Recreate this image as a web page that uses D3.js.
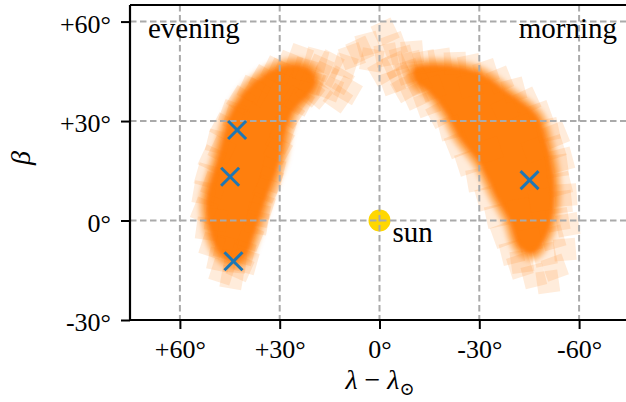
<!DOCTYPE html>
<html>
<head>
<meta charset="utf-8">
<script src="https://cdn.jsdelivr.net/npm/d3@7"></script>
<style>
  body { margin: 0; background: #fff; }
  svg text { font-family: "Liberation Serif", "DejaVu Serif", serif; fill: #000; }
</style>
</head>
<body>
<svg id="chart" width="626" height="402"></svg>
<script>
"use strict";
// axis ticks
var xTicks = [60, 30, 0, -30, -60];
var xTickLabels = ["+60°", "+30°", "0°", "-30°", "-60°"];
var yTicks = [-30, 0, 30, 60];
var yTickLabels = ["-30°", "0°", "+30°", "+60°"];

// dense part of the sample cloud (outline), evening / morning
var coreEveLam  = [44.3, 48.5, 50.9, 51.8, 50.3, 47.6, 45.2, 41.9, 37.4, 31.4, 24.9, 20.5, 19.6, 22.0, 26.0, 28.4, 30.2, 33.5, 35.9, 38.3, 40.4];
var coreEveBeta = [-12.4, -8.8, -2.2, 6.2, 12.3, 21.3, 30.3, 36.4, 41.5, 45.4, 46.6, 44.8, 41.2, 37.6, 33.6, 27.3, 18.3, 9.2, 2.3, -5.2, -10.3];
var coreMorLam  = [-10.5, -16.5, -29.3, -38.3, -47.3, -50.3, -52.1, -52.1, -50.3, -46.1, -42.2, -39.2, -35.3, -30.2, -24.2, -20.3, -14.5, -11.0];
var coreMorBeta = [45.5, 46.6, 44.5, 38.5, 31.2, 22.2, 13.2, 4.1, -3.7, -9.7, -7.9, 0.2, 7.1, 17.4, 25.2, 32.4, 39.5, 42.0];

// sparse samples around the dense part
var sampLam = [
  // evening, outer edge
  48.2, 50.3, 51.8, 52.7, 52.7, 51.8, 50.3, 48.5, 46.7, 44.3, 41.6, 38.6, 35.0, 31.4, 27.2,
  // evening, inner edge
  41.0, 38.9, 36.8, 35.3, 33.8, 32.0, 30.5, 29.0, 26.9, 23.9,
  // evening, tail
  47.3, 44.3, 41.9,
  // evening, upper end
  23.9, 19.1, 14.9, 18.5, 14.9, 11.9, 10.4, 8.3, 5.9, 3.5, 2.3, 12.5, 16.4, 20.3, 22.4, 17.9, 9.5, 20.9,
  // evening, on the edge
  46.1, 49.1, 49.7, 47.3, 43.1, 37.1, 29.9, 36.5, 32.9, 29.9, 25.4, 43.4, 40.1,
  // morning, outer edge
  -18.2, -22.7, -27.2, -32.0, -36.2, -40.4, -44.3, -48.2, -50.6, -52.1, -53.3, -54.2, -54.5,
  -53.6, -52.1, -49.7, -52.7, -50.6, -46.4, -42.2, -55.7, -56.6, -56.0, -54.8, -53.0,
  // morning, inner edge
  -10.7, -14.3, -18.2, -21.2, -23.6, -26.6, -29.6, -32.6, -35.3, -37.4, -39.8, -42.8, -7.7,
  // morning, upper end
  -1.7, -4.4, -2.0, -6.8, -9.8, -0.8, -3.8, -13.7, -4.7, -8.6, -11.6, -15.8, -6.5, -9.5,
  // morning, on the edge
  -45.2, -48.2, -46.7, -37.7, -27.2, -33.2, -42.2
];
var sampBeta = [
  -11.8, -7.6, -2.5, 2.9, 8.3, 13.5, 18.6, 23.7, 28.2, 32.4, 36.3, 39.6, 42.7, 45.4, 47.2,
  -9.7, -5.2, -0.7, 4.4, 9.5, 15.3, 21.3, 27.3, 32.1, 35.8,
  -15.4, -17.2, -14.2,
  49.3, 48.4, 47.2, 38.1, 39.9, 42.3, 46.6, 49.6, 51.4, 53.2, 48.4, 36.9, 43.8, 41.7, 45.4, 46.0, 39.3, 38.7,
  -8.2, 0.2, 10.7, 21.3, 30.9, 38.7, 44.8, 1.7, 12.3, 24.3, 36.3, -12.4, -12.4,
  48.4, 47.5, 46.6, 44.8, 42.4, 39.4, 36.0, 32.1, 27.3, 21.9, 16.5, 11.0, 5.6,
  0.2, -5.2, -10.3, -14.2, -18.5, -16.7, -13.7, -8.8, -1.3, 7.7, 18.3, 25.8,
  37.5, 35.1, 32.1, 27.9, 22.8, 17.4, 12.3, 6.8, 1.4, -4.3, -9.7, -12.4, 39.9,
  56.8, 52.9, 49.9, 49.0, 50.8, 44.8, 41.7, 47.8, 46.9, 44.8, 41.7, 39.9, 43.0, 47.5,
  -5.8, 6.2, 21.3, 33.3, 40.8, 21.3, 3.2
];
var sampAngle = [
  12, 18, 8, 22, 10, 16, 25, 14, 28, 20, 32, 24, 30, 26, 22,
  15, 22, 10, 18, 26, 14, 30, 20, 34, 28,
  18, 10, 24,
  20, 15, 28, 40, 22, 30, 18, -20, -25, -15, 10, 35, 25, 20, 15, 24, 30, 38,
  14, 8, 20, 26, 18, 30, 24, 12, 20, 28, 34, 6, 16,
  -8, -2, -12, -18, -22, -15, -25, -20, -12, -18, -8, -14, -6,
  -10, -16, -12, -20, -8, -14, -18, -5, -10, -4, -15, -22,
  -25, -20, -28, -15, -22, -18, -10, -16, -12, -20, -14, -8, -30,
  -25, -20, -10, -15, -5, -30, -20, -12, -24, -18, -26, -20, -28, -14,
  -12, -8, -20, -25, -15, -18, -10
];

// observed positions
var obsLam  = [42.8, 44.9, 43.9, -45.1];
var obsBeta = [27.3, 13.2, -12.3, 12.2];

var margin = { left: 130, top: 5 };
var plotW = 499, plotH = 315;

var svg = d3.select("#chart");
var g = svg.append("g").attr("transform", "translate(" + margin.left + "," + margin.top + ")");

var x = d3.scaleLinear().domain([75, -75]).range([0, plotW]);
var y = d3.scaleLinear().domain([-30, 65]).range([plotH, 0]);

var defs = svg.append("defs");
defs.append("filter").attr("id", "soft")
  .attr("x", "-20%").attr("y", "-20%").attr("width", "140%").attr("height", "140%")
  .append("feGaussianBlur").attr("stdDeviation", 2.5);

var orange = "#ff7f0e";
var line = d3.line().x(function (d) { return x(d[0]); }).y(function (d) { return y(d[1]); })
  .curve(d3.curveCatmullRomClosed.alpha(0.5));

var cores = [d3.zip(coreEveLam, coreEveBeta), d3.zip(coreMorLam, coreMorBeta)];
// soft halo, then the saturated centre
g.selectAll("path.halo").data(cores).enter().append("path")
  .attr("class", "halo")
  .attr("d", line)
  .attr("fill", "none")
  .attr("stroke", orange)
  .attr("stroke-width", 16)
  .attr("stroke-linejoin", "round")
  .attr("stroke-opacity", 0.45)
  .attr("filter", "url(#soft)");
g.selectAll("path.core").data(cores).enter().append("path")
  .attr("class", "core")
  .attr("d", line)
  .attr("fill", orange)
  .attr("stroke", orange)
  .attr("stroke-width", 4)
  .attr("filter", "url(#soft)");

var side = 22;
var samples = d3.range(sampLam.length).map(function (i) {
  return { lam: sampLam[i], beta: sampBeta[i], ang: sampAngle[i] };
});
g.selectAll("rect.samp").data(samples).enter().append("rect")
  .attr("class", "samp")
  .attr("x", -side / 2).attr("y", -side / 2)
  .attr("width", side).attr("height", side)
  .attr("transform", function (d) {
    return "translate(" + x(d.lam) + "," + y(d.beta) + ") rotate(" + d.ang + ")";
  })
  .attr("fill", orange)
  .attr("fill-opacity", 0.15);

// sun
g.append("circle")
  .attr("cx", x(0)).attr("cy", y(0)).attr("r", 11)
  .attr("fill", "#ffd700");

// grid on top of the cloud
var grid = g.append("g").attr("stroke", "#aaaaaa").attr("stroke-width", 2)
  .attr("stroke-dasharray", "6.5,3.5");
grid.selectAll("line.gx").data(xTicks).enter().append("line")
  .attr("x1", function (d) { return x(d); }).attr("x2", function (d) { return x(d); })
  .attr("y1", 0).attr("y2", plotH);
grid.selectAll("line.gy").data(yTicks.filter(function (d) { return d > -30; })).enter().append("line")
  .attr("y1", function (d) { return y(d); }).attr("y2", function (d) { return y(d); })
  .attr("x1", 0).attr("x2", plotW);

// observed markers
var ms = 9;
var obs = g.selectAll("g.obs").data(d3.zip(obsLam, obsBeta)).enter().append("g")
  .attr("transform", function (d) { return "translate(" + x(d[0]) + "," + y(d[1]) + ")"; })
  .attr("stroke", "#1f77b4").attr("stroke-width", 3);
obs.append("line").attr("x1", -ms).attr("y1", -ms).attr("x2", ms).attr("y2", ms);
obs.append("line").attr("x1", -ms).attr("y1", ms).attr("x2", ms).attr("y2", -ms);

// axes
var xAxis = d3.axisBottom(x).tickValues(xTicks)
  .tickFormat(function (d, i) { return xTickLabels[i]; }).tickSize(9).tickPadding(6);
var yAxis = d3.axisLeft(y).tickValues(yTicks)
  .tickFormat(function (d, i) { return yTickLabels[i]; }).tickSize(9).tickPadding(10);

var gx = g.append("g").attr("transform", "translate(0," + plotH + ")").call(xAxis);
var gy = g.append("g").call(yAxis);
[gx, gy].forEach(function (a) {
  a.select(".domain").remove();
  a.selectAll(".tick line").attr("stroke", "#000").attr("stroke-width", 2);
  a.selectAll(".tick text").attr("font-size", 26).attr("fill", "#000")
    .style("font-family", "'Liberation Serif', serif");
});
gx.selectAll(".tick text").attr("dy", "0.88em");
gy.selectAll(".tick text").attr("dy", "0.42em");

// spines (the right one falls just outside the picture)
g.append("line").attr("x1", 0).attr("x2", 0).attr("y1", 0).attr("y2", plotH)
  .attr("stroke", "#000").attr("stroke-width", 2.2);
g.append("line").attr("x1", 0).attr("x2", plotW).attr("y1", plotH).attr("y2", plotH)
  .attr("stroke", "#000").attr("stroke-width", 2.2);
g.append("line").attr("x1", 0).attr("x2", plotW).attr("y1", 0).attr("y2", 0)
  .attr("stroke", "#000").attr("stroke-width", 2.2);

// annotations
g.append("text").attr("x", 18).attr("y", 33).attr("font-size", 29).text("evening");
g.append("text").attr("x", 487).attr("y", 33).attr("font-size", 29)
  .attr("text-anchor", "end").text("morning");
g.append("text").attr("x", x(0) + 13).attr("y", y(0) + 21).attr("font-size", 29).text("sun");

// axis labels
var xl = svg.append("text").attr("x", 380).attr("y", 389)
  .attr("text-anchor", "middle").attr("font-size", 28);
xl.append("tspan").attr("font-style", "italic").text("λ");
xl.append("tspan").text(" − ");
xl.append("tspan").attr("font-style", "italic").text("λ");
xl.append("tspan").attr("font-size", 18).attr("dy", 6).text("⊙");

svg.append("text")
  .attr("transform", "translate(30,158) rotate(-90)")
  .attr("text-anchor", "middle").attr("font-size", 28).attr("font-style", "italic")
  .text("β");
</script>
</body>
</html>
